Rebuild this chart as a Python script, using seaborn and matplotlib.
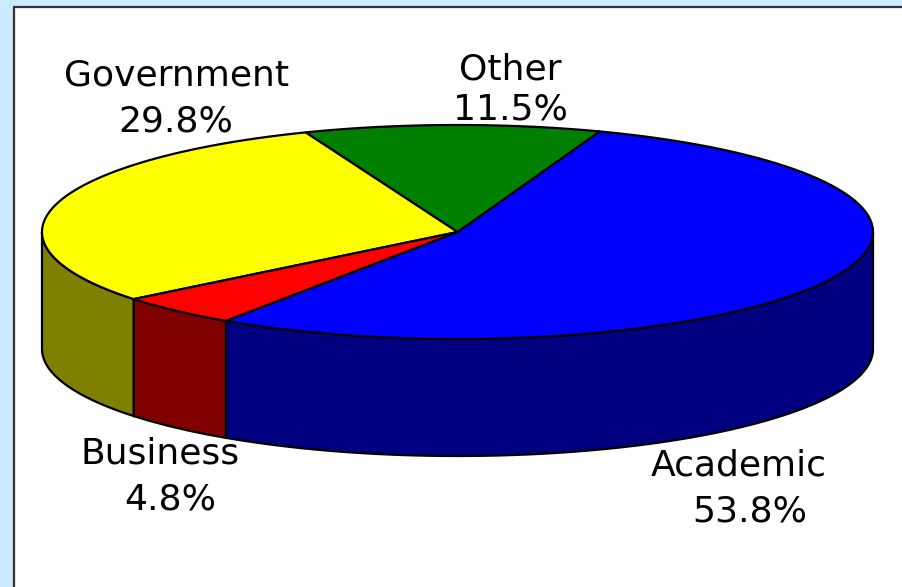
import numpy as np
import seaborn as sns
import matplotlib.pyplot as plt
from matplotlib.patches import Polygon, Rectangle

# Data
labels = ["Academic", "Other", "Government", "Business"]
shares = [53.8, 11.5, 29.8, 4.8]
top_colors = ["#0000ff", "#008000", "#ffff00", "#ff0000"]
side_colors = ["#000080", "#004000", "#808000", "#800000"]

# layout (pixels)
cx, cy = 457.5, 232.0
rx, ry = 415.5, 107.0
depth = 117.0
start = 70.0 - 360.0 * shares[0] / sum(shares)

# label lines: (name line xy, percent line xy) as baselines
label_pos = {
    "Academic": ((739, 475), (750, 522)),
    "Other": ((510, 79), (510, 120)),
    "Government": ((177, 85), (176, 131)),
    "Business": ((160, 463), (170, 509)),
}

sns.set_style("white")

fig = plt.figure(figsize=(9.03, 5.87), dpi=100)
fig.patch.set_facecolor("#cceaff")
ax = fig.add_axes([0, 0, 1, 1])
ax.set_xlim(0, 903)
ax.set_ylim(587, 0)
ax.axis("off")

# white panel
ax.add_patch(Rectangle((14.5, 6.5), 950, 650, facecolor="white",
                       edgecolor="#333333", linewidth=1.6, zorder=0))


def pt(t, dy=0.0):
    r = np.radians(t)
    return cx + rx * np.cos(r), cy - ry * np.sin(r) + dy


# angle ranges (counter-clockwise)
ranges = []
a0 = start
for s in shares:
    a1 = a0 + 360.0 * s / sum(shares)
    ranges.append((a0, a1))
    a0 = a1

# side walls first (front half only)
for (t0, t1), col in zip(ranges, side_colors):
    for k in (-1, 0, 1):
        lo = max(t0, 180 + 360 * k)
        hi = min(t1, 360 + 360 * k)
        if hi <= lo:
            continue
        ts = np.linspace(lo, hi, 120)
        upper = [pt(t) for t in ts]
        lower = [pt(t, depth) for t in ts[::-1]]
        ax.add_patch(Polygon(upper + lower, closed=True, facecolor=col,
                             edgecolor="black", linewidth=1.6, zorder=1))

# top faces
for (t0, t1), col in zip(ranges, top_colors):
    ts = np.linspace(t0, t1, 200)
    verts = [(cx, cy)] + [pt(t) for t in ts]
    ax.add_patch(Polygon(verts, closed=True, facecolor=col,
                         edgecolor="black", linewidth=1.6, zorder=2))

# labels
for lab, s in zip(labels, shares):
    (x1, y1), (x2, y2) = label_pos[lab]
    ax.text(x1, y1, lab, ha="center", va="baseline", fontsize=26,
            family="DejaVu Sans", color="black")
    ax.text(x2, y2, f"{s:.1f}%", ha="center", va="baseline", fontsize=26,
            family="DejaVu Sans", color="black")

fig.savefig("out.png", dpi=100, facecolor=fig.get_facecolor())
